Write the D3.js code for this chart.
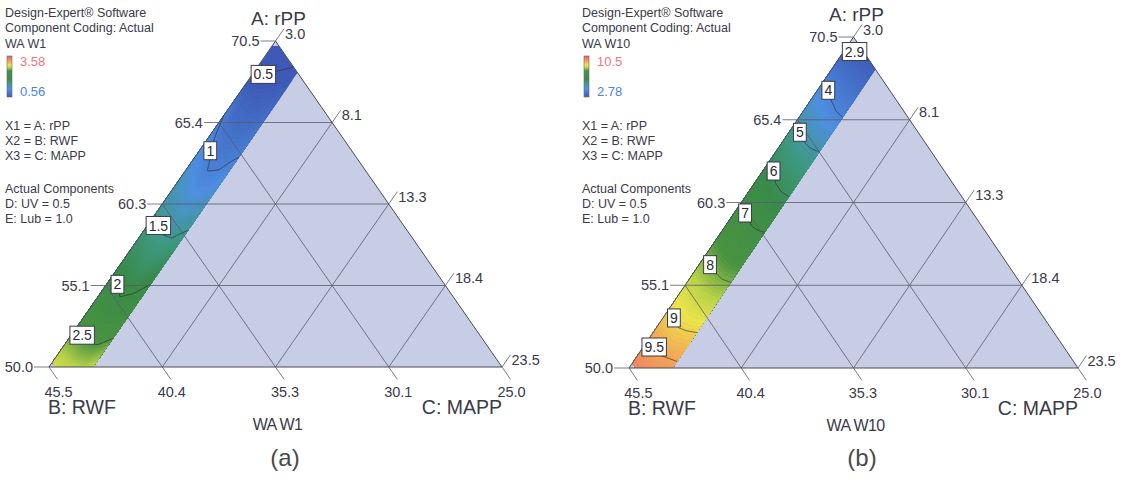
<!DOCTYPE html>
<html>
<head>
<meta charset="utf-8">
<script src="https://cdn.jsdelivr.net/npm/d3@7"></script>
<style>
  body { margin: 0; background: #fff; }
  svg { display: block; }
  text { font-family: "Liberation Sans", Arial, sans-serif; fill: #3a3a48; }
</style>
</head>
<body>
<svg id="chart" width="1131" height="500"></svg>
<script>
// ---- Mixture design space (actual units, A + B + C = 98.5) ----
const compA = [50.0, 70.5];   // A: rPP
const compB = [25.0, 45.5];   // B: RWF
const compC = [3.0, 23.5];    // C: MAPP

// Axis ticks on each edge
const tickValuesA = [50.0, 55.125, 60.25, 65.375, 70.5];
const tickLabelsA = ["50.0", "55.1", "60.3", "65.4", "70.5"];
const tickValuesB = [45.5, 40.375, 35.25, 30.125, 25.0];
const tickLabelsB = ["45.5", "40.4", "35.3", "30.1", "25.0"];
const tickValuesC = [3.0, 8.125, 13.25, 18.375, 23.5];
const tickLabelsC = ["3.0", "8.1", "13.3", "18.4", "23.5"];

// Constraint limits of the experimental region
const limitA = [50.0, 70.2];
const limitB = [25.0, 45.2];
const limitC = [3.0, 5.0];

// Response contours: for each MAPP level, the rPP content at which the response equals each level
const contourC = [3.0, 3.5, 4.0, 4.5, 5.0];

const w1Range = [0.56, 3.58];
const w1Levels = [0.5, 1, 1.5, 2, 2.5];
const w1AtC = [
  [68.2, 65.9, 59.6, 55.8, 52.5],
  [68.4, 63.6, 58.9, 55.2, 52.0],
  [68.6, 62.3, 58.3, 54.4, 51.5],
  [68.8, 62.4, 58.1, 54.6, 51.4],
  [69.0, 63.2, 58.6, 55.2, 51.8]
];

const w10Range = [2.78, 10.5];
const w10Levels = [2.9, 4, 5, 6, 7, 8, 9, 9.5];
const w10AtC = [
  [70.0, 67.8, 65.2, 62.8, 60.2, 57.0, 53.6, 51.8],
  [69.6, 67.2, 64.6, 62.2, 59.6, 56.4, 53.1, 51.3],
  [69.3, 66.5, 64.0, 61.4, 59.0, 55.9, 52.5, 50.8],
  [69.0, 65.9, 63.6, 60.9, 58.6, 55.5, 52.3, 50.6],
  [68.7, 65.5, 63.4, 60.6, 58.4, 55.3, 52.2, 50.4]
];

// ---- Styling / layout ----
const colorStops = [0, 0.2, 0.33, 0.45, 0.64, 0.72, 0.78, 0.86, 0.93, 1];
const colorList = ["#3e5ab6", "#4f90e2", "#3f9a84", "#3a8c4a", "#4a9442", "#b8d24a", "#ece44c", "#f2aa56", "#ee8462", "#e0605a"];
const gridColor = "#5a5a6a";
const regionFill = "#c8cde6";

const panels = [
  { L: [49, 367], R: [502, 367], T: [275.5, 41], legendX: 5, title: "WA W1", caption: "(a)", captionX: 285,
    levels: w1Levels, aAtC: w1AtC, range: w1Range, rangeLabels: ["3.58", "0.56"] },
  { L: [629, 368], R: [1078, 368], T: [853.5, 37], legendX: 582, title: "WA W10", caption: "(b)", captionX: 862,
    levels: w10Levels, aAtC: w10AtC, range: w10Range, rangeLabels: ["10.5", "2.78"] }
];

const total = compA[0] + compB[1] + compC[0];
const svg = d3.select("#chart");
const defs = svg.append("defs");

// Shared colour ramp (t in 0..1)
const ramp = d3.scaleLinear().domain(colorStops).range(colorList).interpolate(d3.interpolateRgb).clamp(true);

const grad = defs.append("linearGradient").attr("id", "ramp")
  .attr("x1", 0).attr("y1", 1).attr("x2", 0).attr("y2", 0);
colorStops.forEach((s, i) => grad.append("stop").attr("offset", s).attr("stop-color", colorList[i]));

panels.forEach((p, pi) => {
  const g = svg.append("g");
  const aFrac = d3.scaleLinear().domain(compA).range([0, 1]);
  const cFrac = d3.scaleLinear().domain(compC).range([0, 1]);
  const [L, R, T] = [p.L, p.R, p.T];

  // ternary (A, C) -> pixel
  const pt = (A, C) => {
    const a = aFrac(A), c = cFrac(C);
    return [L[0] + c * (R[0] - L[0]) + a * (T[0] - L[0]),
            L[1] + c * (R[1] - L[1]) + a * (T[1] - L[1])];
  };
  // pixel -> ternary (A, C)
  const det = (R[0] - L[0]) * (T[1] - L[1]) - (T[0] - L[0]) * (R[1] - L[1]);
  const inv = (x, y) => {
    const dx = x - L[0], dy = y - L[1];
    const c = (dx * (T[1] - L[1]) - dy * (T[0] - L[0])) / det;
    const a = ((R[0] - L[0]) * dy - (R[1] - L[1]) * dx) / det;
    return [aFrac.invert(a), cFrac.invert(c)];
  };

  // Response surface built from the contour table
  const cols = p.aAtC.map(row => d3.scaleLinear().domain(row).range(p.levels));
  const field = (A, C) => {
    const cc = Math.max(contourC[0], Math.min(contourC[contourC.length - 1], C));
    let k = d3.bisectRight(contourC, cc) - 1;
    k = Math.max(0, Math.min(contourC.length - 2, k));
    const t = (cc - contourC[k]) / (contourC[k + 1] - contourC[k]);
    return cols[k](A) * (1 - t) + cols[k + 1](A) * t;
  };
  const valueT = d3.scaleLinear().domain(p.range).range([0, 1]).clamp(true);

  // Triangle background
  const tri = [pt(compA[1], compC[0]), pt(compA[0], compC[0]), pt(compA[0], compC[1])];
  g.append("path").attr("d", "M" + tri.join("L") + "Z").attr("fill", regionFill);

  // Feasible band
  const band = [
    [total - limitB[1] - limitC[0], limitC[0]],
    [limitA[0], total - limitB[1] - limitA[0]],
    [limitA[0], limitC[1]],
    [total - limitB[0] - limitC[1], limitC[1]],
    [limitA[1], total - limitB[0] - limitA[1]],
    [limitA[1], limitC[0]]
  ].map(d => pt(d[0], d[1]));
  const clipId = "band" + pi;
  defs.append("clipPath").attr("id", clipId).append("path").attr("d", "M" + band.join("L") + "Z");

  // sample the field on a pixel grid around the band
  const step = 1.5, margin = 6;
  const x0 = d3.min(band, d => d[0]) - margin, x1 = d3.max(band, d => d[0]) + margin;
  const y0 = d3.min(band, d => d[1]) - margin, y1 = d3.max(band, d => d[1]) + margin;
  const nx = Math.ceil((x1 - x0) / step) + 1, ny = Math.ceil((y1 - y0) / step) + 1;
  const values = new Float64Array(nx * ny);
  for (let j = 0; j < ny; j++) {
    for (let i = 0; i < nx; i++) {
      const [A, C] = inv(x0 + i * step, y0 + j * step);
      values[i + j * nx] = field(A, C);
    }
  }
  const proj = d3.geoPath(d3.geoIdentity().scale(step).translate([x0 - step / 2, y0 - step / 2]));

  const bandG = g.append("g").attr("clip-path", `url(#${clipId})`);
  bandG.append("path").attr("d", "M" + band.join("L") + "Z").attr("fill", ramp(0));
  const nBands = 120;
  const bandTh = d3.range(1, nBands).map(k => p.range[0] + (p.range[1] - p.range[0]) * k / nBands);
  const fills = d3.contours().size([nx, ny]).thresholds(bandTh)(values);
  bandG.selectAll("path.fill").data(fills).join("path").attr("class", "fill")
    .attr("d", proj)
    .attr("fill", d => ramp(valueT(d.value + (p.range[1] - p.range[0]) / nBands / 2)))
    .attr("stroke", d => ramp(valueT(d.value + (p.range[1] - p.range[0]) / nBands / 2)))
    .attr("stroke-width", 0.3);

  const lines = d3.contours().size([nx, ny]).thresholds(p.levels)(values);
  bandG.selectAll("path.iso").data(lines).join("path").attr("class", "iso")
    .attr("d", proj).attr("fill", "none")
    .attr("stroke", "#2c2e3c").attr("stroke-opacity", 0.75).attr("stroke-width", 0.9);

  // Grid lines
  const gridG = g.append("g").attr("stroke", gridColor).attr("stroke-width", 0.8).attr("fill", "none");
  tickValuesA.slice(1, -1).forEach(A => {
    gridG.append("line").attr("x1", pt(A, compC[0])[0]).attr("y1", pt(A, compC[0])[1])
      .attr("x2", pt(A, total - compB[0] - A)[0]).attr("y2", pt(A, total - compB[0] - A)[1]);
  });
  tickValuesB.slice(1, -1).forEach(B => {
    const p1 = pt(compA[0], total - compA[0] - B), p2 = pt(total - B - compC[0], compC[0]);
    gridG.append("line").attr("x1", p1[0]).attr("y1", p1[1]).attr("x2", p2[0]).attr("y2", p2[1]);
  });
  tickValuesC.slice(1, -1).forEach(C => {
    const p1 = pt(total - compB[0] - C, C), p2 = pt(compA[0], C);
    gridG.append("line").attr("x1", p1[0]).attr("y1", p1[1]).attr("x2", p2[0]).attr("y2", p2[1]);
  });

  // Triangle outline
  g.append("path").attr("d", "M" + tri.join("L") + "Z").attr("fill", "none")
    .attr("stroke", "#4a4a58").attr("stroke-width", 1);

  // Ticks and tick labels
  const tickLen = 15;
  const unit = (a, b) => { const dx = b[0] - a[0], dy = b[1] - a[1], n = Math.hypot(dx, dy); return [dx / n, dy / n]; };
  const dirB = unit(T, R), dirC = unit(L, T);
  const tickG = g.append("g");
  tickValuesA.forEach((A, i) => {
    const s = pt(A, compC[0]);
    tickG.append("line").attr("x1", s[0]).attr("y1", s[1]).attr("x2", s[0] - tickLen).attr("y2", s[1])
      .attr("stroke", gridColor).attr("stroke-width", 0.8);
    tickG.append("text").attr("x", s[0] - tickLen - 1).attr("y", s[1]).attr("dy", "0.36em")
      .attr("text-anchor", "end").attr("font-size", 14.5).text(tickLabelsA[i]);
  });
  tickValuesB.forEach((B, i) => {
    const s = pt(compA[0], total - compA[0] - B);
    const e = [s[0] + dirB[0] * tickLen, s[1] + dirB[1] * tickLen];
    tickG.append("line").attr("x1", s[0]).attr("y1", s[1]).attr("x2", e[0]).attr("y2", e[1])
      .attr("stroke", gridColor).attr("stroke-width", 0.8);
    tickG.append("text").attr("x", e[0] + 1).attr("y", e[1] + 18)
      .attr("text-anchor", "middle").attr("font-size", 14.5).text(tickLabelsB[i]);
  });
  tickValuesC.forEach((C, i) => {
    const s = pt(total - compB[0] - C, C);
    const e = [s[0] + dirC[0] * tickLen, s[1] + dirC[1] * tickLen];
    tickG.append("line").attr("x1", s[0]).attr("y1", s[1]).attr("x2", e[0]).attr("y2", e[1])
      .attr("stroke", gridColor).attr("stroke-width", 0.8);
    tickG.append("text").attr("x", e[0] + 1).attr("y", e[1] + 10)
      .attr("text-anchor", "start").attr("font-size", 14.5).text(tickLabelsC[i]);
  });

  // Vertex titles
  g.append("text").attr("x", T[0] + 3).attr("y", T[1] - 16).attr("text-anchor", "middle")
    .attr("font-size", 19).text("A: rPP");
  g.append("text").attr("x", L[0] - 1).attr("y", L[1] + 47).attr("text-anchor", "start")
    .attr("font-size", 19.5).text("B: RWF");
  g.append("text").attr("x", R[0]).attr("y", R[1] + 47).attr("text-anchor", "end")
    .attr("font-size", 19.5).text("C: MAPP");
  g.append("text").attr("x", (L[0] + R[0]) / 2 + 2).attr("y", L[1] + 63).attr("text-anchor", "middle")
    .attr("font-size", 16).attr("letter-spacing", -0.6).text(p.title);
  g.append("text").attr("x", p.captionX).attr("y", 466).attr("text-anchor", "middle")
    .attr("font-size", 24).style("fill", "#4a4a4a").text(p.caption);

  // Contour value labels, placed on each contour at C = 3.5
  const labC = contourC[1];
  p.levels.forEach((lv, i) => {
    const pos = pt(p.aAtC[1][i], labC);
    const lg = g.append("g").attr("transform", `translate(${pos[0]},${pos[1]})`);
    const txt = lg.append("text").attr("text-anchor", "middle").attr("dy", "0.36em")
      .attr("font-size", 14).style("fill", "#2a2a36").text(String(lv));
    const w = txt.node().getComputedTextLength() + 5;
    lg.insert("rect", "text").attr("x", -w / 2).attr("y", -9).attr("width", w).attr("height", 18)
      .attr("fill", "#fff").attr("stroke", "#3a3a48").attr("stroke-width", 1);
  });

  // Legend block
  const lx = p.legendX;
  const leg = g.append("g").attr("font-size", 12);
  [["Design-Expert® Software", 17], ["Component Coding: Actual", 32], [p.title, 48]].forEach(([t, y]) =>
    leg.append("text").attr("x", lx).attr("y", y).attr("font-size", 12.5).text(t));
  leg.append("rect").attr("x", lx + 2).attr("y", 56).attr("width", 5).attr("height", 41)
    .attr("fill", "url(#ramp)").attr("stroke", "#6a6a78").attr("stroke-width", 0.6);
  leg.append("text").attr("x", lx + 15).attr("y", 66).attr("font-size", 13).style("fill", "#f07585").text(p.rangeLabels[0]);
  leg.append("text").attr("x", lx + 15).attr("y", 96).attr("font-size", 13).style("fill", "#4d82e6").text(p.rangeLabels[1]);
  [["X1 = A: rPP", 130], ["X2 = B: RWF", 145], ["X3 = C: MAPP", 160],
   ["Actual Components", 193], ["D: UV = 0.5", 208], ["E: Lub = 1.0", 223]].forEach(([t, y]) =>
    leg.append("text").attr("x", lx).attr("y", y).attr("font-size", 12.5).text(t));
});
</script>
</body>
</html>
